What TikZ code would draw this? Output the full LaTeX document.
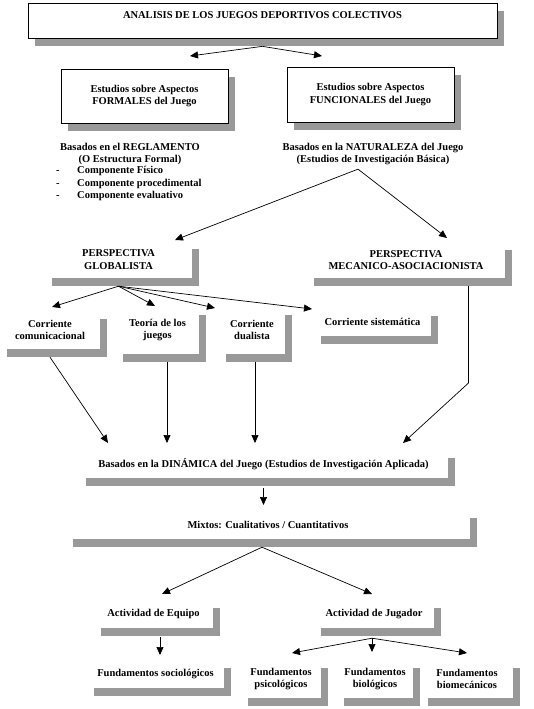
\documentclass[tikz,border=0pt]{standalone}
\usepackage{fontspec}
\setmainfont{Liberation Serif}
\usetikzlibrary{arrows.meta,shadows}

\begin{document}
\begin{tikzpicture}
[x=1pt, y=-1pt, font=\fontsize{10.5}{12.3}\selectfont\bfseries,
  boxdecorate/.style={draw, fill=white, line width=0.7pt, align=center,
    inner sep=0pt, drop shadow={shadow xshift=7pt, shadow yshift=-8pt,
    fill=black!40, opacity=1}},
  shadedecorate/.style={fill=white, align=center, inner sep=0pt,
    drop shadow={shadow xshift=7pt, shadow yshift=-8pt,
    fill=black!40, opacity=1}},
  textdecorate/.style={align=center, inner sep=0pt},
  linedecorate/.style={-{Triangle[length=8pt,width=7pt]}, line width=0.7pt}]
\useasboundingbox (0,0) rectangle (534,709);
%% boxes with border
\node (analisis) at (262.5,20.5) [boxdecorate, minimum width=469,
  text height=15.5pt, text depth=19.5pt]
  {ANALISIS DE LOS JUEGOS DEPORTIVOS COLECTIVOS};
\foreach \nodename/\x/\y/\w/\h/\nodetext in {
  formales/144.5/96/167/54/{Estudios sobre Aspectos\\FORMALES del Juego},
  funcionales/370.5/94.5/167/55/{Estudios sobre Aspectos\\FUNCIONALES del Juego}}
{
  \node (\nodename) at (\x,\y) [boxdecorate, minimum width=\w,
    minimum height=\h] {\nodetext};
}
%% plain texts
\node (reglamento) at (130,154) [textdecorate]
  {Basados en el REGLAMENTO\\(O Estructura Formal)};
\node (componentes) at (56,166.5) [textdecorate, align=left, anchor=north west]
  {\makebox[21pt][l]{-}Componente Físico\\
   \makebox[21pt][l]{-}Componente procedimental\\
   \makebox[21pt][l]{-}Componente evaluativo};
\node (naturaleza) at (373,154) [textdecorate]
  {Basados en la NATURALEZA del Juego\\(Estudios de Investigación Básica)};
%% boxes with shadow only
\foreach \nodename/\x/\y/\w/\h/\nodetext in {
  globalista/118.5/259.5/147/37/{PERSPECTIVA\\GLOBALISTA},
  mecanico/406/260/198/36/{PERSPECTIVA\\MECANICO-ASOCIACIONISTA},
  comunicacional/50/330/100/38/{Corriente\\comunicacional},
  teoria/157.5/330/83/47/{Teoría de los\\juegos},
  dualista/252/330/66/47/{Corriente\\dualista},
  sistematica/372.5/322/117/28/{Corriente sistemática},
  dinamica/263.5/464/369/28/{Basados en la DINÁMICA del Juego (Estudios de Investigación Aplicada)},
  mixtos/268/524.5/404/29/{Mixtos: Cualitativos / Cuantitativos},
  equipo/153.5/614/119/28/{Actividad de Equipo},
  jugador/374/614/120/28/{Actividad de Jugador},
  sociologicos/155.5/674/137/28/{Fundamentos sociológicos},
  psicologicos/281/679/80/38/{Fundamentos\\psicológicos},
  biologicos/375/679/76/38/{Fundamentos\\biológicos},
  biomecanicos/467/679/92/38/{Fundamentos\\biomecánicos}}
{
  \node (\nodename) at (\x,\y) [shadedecorate, minimum width=\w,
    minimum height=\h] {\nodetext};
}
%% start points below the shadows
\coordinate (analisisfoot) at ([yshift=-8pt]analisis.south);
\coordinate (naturalezafoot) at ([xshift=-15pt,yshift=-4pt]naturaleza.south);
\coordinate (globalistafoot) at ([yshift=-8pt]globalista.south);
\coordinate (comunicacionalfoot) at ([yshift=-8pt]comunicacional.south);
\coordinate (teoriafoot) at ([xshift=9.5pt,yshift=-8pt]teoria.south);
\coordinate (dualistafoot) at ([xshift=3pt,yshift=-8pt]dualista.south);
\coordinate (mecanicofoot) at ([xshift=62.5pt,yshift=-8pt]mecanico.south);
\coordinate (dinamicafoot) at ([yshift=-10pt]dinamica.south);
\coordinate (mixtosfoot) at ([xshift=-6pt,yshift=-8pt]mixtos.south);
\coordinate (equipofoot) at ([xshift=6.5pt,yshift=-9pt]equipo.south);
\coordinate (jugadorfoot) at ([xshift=-2pt,yshift=-10pt]jugador.south);
%% arrow tips
\foreach \coordname/\x/\y in {tipformales/190/56, tipfuncionales/322/56,
  tipglobalista/175/240, tipmecanico/447/238, tipcomunicacional/52/307,
  tipteoria/155/306, tipdualista/215/308, tipsistematica/312/309,
  tipdinamicaa/108/443, tipdinamicab/167/443, tipdinamicac/255/443,
  mecanicobend/468.5/383, tipdinamicad/403/443, tipmixtos/263.5/505,
  tipequipo/162/594, tipjugador/372/594, tipsociologicos/160/655,
  tippsicologicos/292/653, tipbiologicos/372/652, tipbiomecanicos/467/653}
{
  \coordinate (\coordname) at (\x,\y);
}
%% edges or lines
\path
\foreach \startnode/\endnode in {analisisfoot/tipformales,
  analisisfoot/tipfuncionales, naturalezafoot/tipglobalista,
  naturalezafoot/tipmecanico, globalistafoot/tipcomunicacional,
  globalistafoot/tipteoria, globalistafoot/tipdualista,
  globalistafoot/tipsistematica, comunicacionalfoot/tipdinamicaa,
  teoriafoot/tipdinamicab, dualistafoot/tipdinamicac,
  dinamicafoot/tipmixtos, mixtosfoot/tipequipo, mixtosfoot/tipjugador,
  equipofoot/tipsociologicos, jugadorfoot/tippsicologicos,
  jugadorfoot/tipbiologicos, jugadorfoot/tipbiomecanicos}
{
  (\startnode) edge[linedecorate] (\endnode)
};
\draw[linedecorate] (mecanicofoot) -- (mecanicobend) -- (tipdinamicad);
\end{tikzpicture}
\end{document}
